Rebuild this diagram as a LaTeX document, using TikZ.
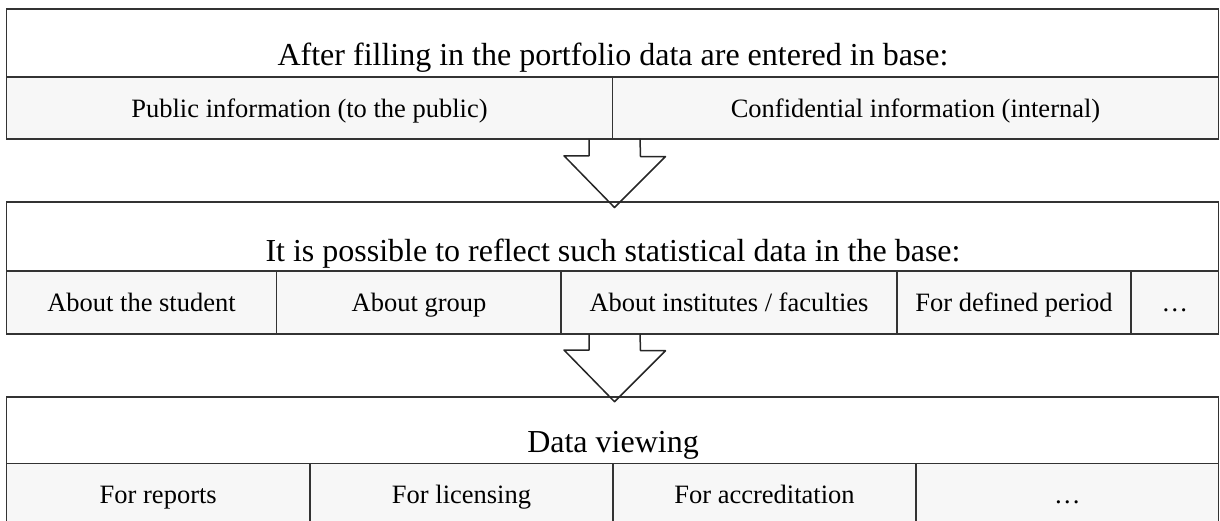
\documentclass[tikz,border=0pt]{standalone}
\usepackage{fontspec}
\setmainfont{Liberation Serif}
\usetikzlibrary{calc}

\begin{document}
\begin{tikzpicture}
  [x=1pt, y=-1pt,
   panel/.style={shape=rectangle, draw=black!80, line width=1.6pt, inner sep=0pt, outer sep=0pt, minimum width=1212pt},
   cell/.style={shape=rectangle, draw=black!80, line width=1.6pt, fill=black!3, inner sep=0pt, outer sep=0pt,
                text height=18pt, text depth=0pt, font=\fontsize{26.5}{30}\selectfont},
   heading/.style={anchor=base, font=\fontsize{32}{38}\selectfont},
   blockarrow/.style={draw=black!85, line width=1.5pt, line join=round}]
  \useasboundingbox (0,0) rectangle (1220,520);
  \clip (0,0) rectangle (1220,520);

  % first stage
  \node (panA) [panel, minimum height=129.5pt] at (612.5,74) {};
  \node (headA) [heading] at (613,65) {After filling in the portfolio data are entered in base:};
  \node (pub) [cell, minimum width=606pt, minimum height=61.5pt] at (309.5,108) {Public information (to the public)};
  \node (conf) [cell, minimum width=606pt, minimum height=61.5pt] at (915.5,108) {Confidential information (internal)};

  % second stage
  \node (panB) [panel, minimum height=132pt] at (612.5,268) {};
  \node (headB) [heading] at (613,261.7) {It is possible to reflect such statistical data in the base:};
  \node (stud) [cell, minimum width=270pt, minimum height=63.5pt] at (141.5,302.5) {About the student};
  \node (grp) [cell, minimum width=285pt, minimum height=63.5pt] at (419,302.5) {About group};
  \node (inst) [cell, minimum width=336pt, minimum height=63.5pt] at (729,302.5) {About institutes / faculties};
  \node (per) [cell, minimum width=234pt, minimum height=63.5pt] at (1014,302.5) {For defined period};
  \node (etcB) [cell, minimum width=87.5pt, minimum height=63.5pt] at (1174.75,302.5) {\dots};

  % third stage
  \node (panC) [panel, minimum height=129.6pt] at (612.5,461.5) {};
  \node (headC) [heading] at (613,452.3) {Data viewing};
  \node (rep) [cell, minimum width=303.5pt, minimum height=63pt] at (158.25,494.8) {For reports};
  \node (lic) [cell, minimum width=303pt, minimum height=63pt] at (461.5,494.8) {For licensing};
  \node (acc) [cell, minimum width=303pt, minimum height=63pt] at (764.5,494.8) {For accreditation};
  \node (etcC) [cell, minimum width=302.5pt, minimum height=63pt] at (1067.25,494.8) {\dots};

  % arrows between the stages
  \draw [blockarrow] ([xshift=-23.5pt]panA.south) -- ++(0,17) -- ++(-25,0)
    -- ([xshift=2pt, yshift=-5.5pt]panB.north) -- ++(51,-51) -- ++(-25,0) -- ([xshift=27.5pt]panA.south);
  \draw [blockarrow] ([xshift=-23.5pt]panB.south) -- ++(0,16) -- ++(-25,0)
    -- ([xshift=2pt, yshift=-5pt]panC.north) -- ++(51,-51) -- ++(-25,0) -- ([xshift=27.5pt]panB.south);
\end{tikzpicture}
\end{document}
